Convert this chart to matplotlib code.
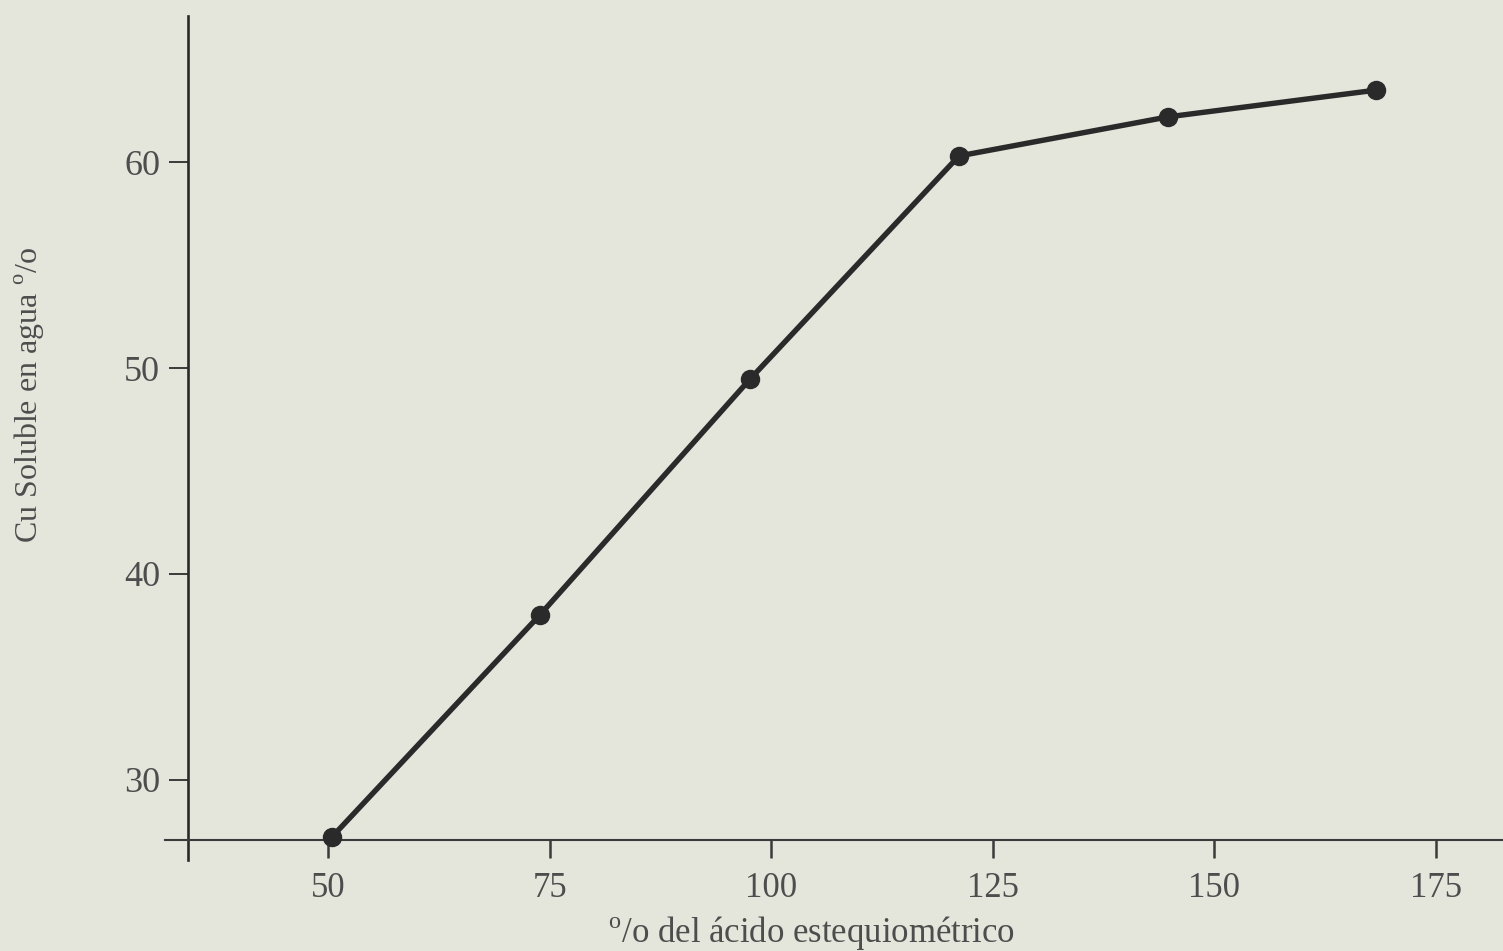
import matplotlib.pyplot as plt

plt.rcParams['font.family'] = ['Liberation Serif', 'DejaVu Serif']
plt.rcParams['mathtext.fontset'] = 'custom'
plt.rcParams['mathtext.rm'] = 'Liberation Serif'

# readings from the curve
acido = [50.4, 73.9, 97.6, 121.2, 144.8, 168.3]
cu_soluble = [27.2, 38.0, 49.45, 60.3, 62.2, 63.5]

x_ticks = [50, 75, 100, 125, 150, 175]
y_ticks = [30, 40, 50, 60]

bg = '#e4e6dc'
ink = '#2a2a2a'
txt = '#4d4d4d'

W, H = 1503, 951
fig = plt.figure(figsize=(W / 100, H / 100), dpi=100, facecolor=bg)
# axes box in pixels: left 165, right 1503, top 16, bottom 860
ax = fig.add_axes([165 / W, 1 - 860 / H, (1503 - 165) / W, (860 - 16) / H])
ax.set_facecolor(bg)

ax.plot(acido, cu_soluble, color=ink, linewidth=3.9, marker='o',
        markersize=13, markerfacecolor=ink, markeredgecolor=ink,
        solid_capstyle='round', clip_on=False, zorder=3)

ax.set_xlim(31.6, 182.6)
ax.set_ylim(26.1, 67.1)

ax.spines['top'].set_visible(False)
ax.spines['right'].set_visible(False)
ax.spines['left'].set_position(('data', 34.2))
ax.spines['bottom'].set_position(('data', 27.08))
ax.spines['left'].set_linewidth(1.9)
ax.spines['bottom'].set_linewidth(1.5)
ax.spines['left'].set_color(ink)
ax.spines['bottom'].set_color('#3a3a3a')

ax.set_xticks(x_ticks)
ax.set_yticks(y_ticks)
ax.tick_params(axis='x', direction='out', length=13, width=1.8,
               color='#3a3a3a', pad=10, labelsize=25, labelcolor=txt)
ax.tick_params(axis='y', direction='out', length=14, width=1.4,
               color='#3a3a3a', pad=6, labelsize=26, labelcolor=txt)

fig.text(811 / W, 1 - 933 / H, r'$^{\mathrm{o}}$/o del ácido estequiométrico',
         ha='center', va='center', fontsize=25, color=txt)
fig.text(30 / W, 1 - 395 / H, r'Cu Soluble en agua $^{\mathrm{o}}$/o',
         ha='center', va='center', rotation=90, fontsize=23, color=txt)

fig.savefig('out.png', dpi=100, facecolor=bg)
